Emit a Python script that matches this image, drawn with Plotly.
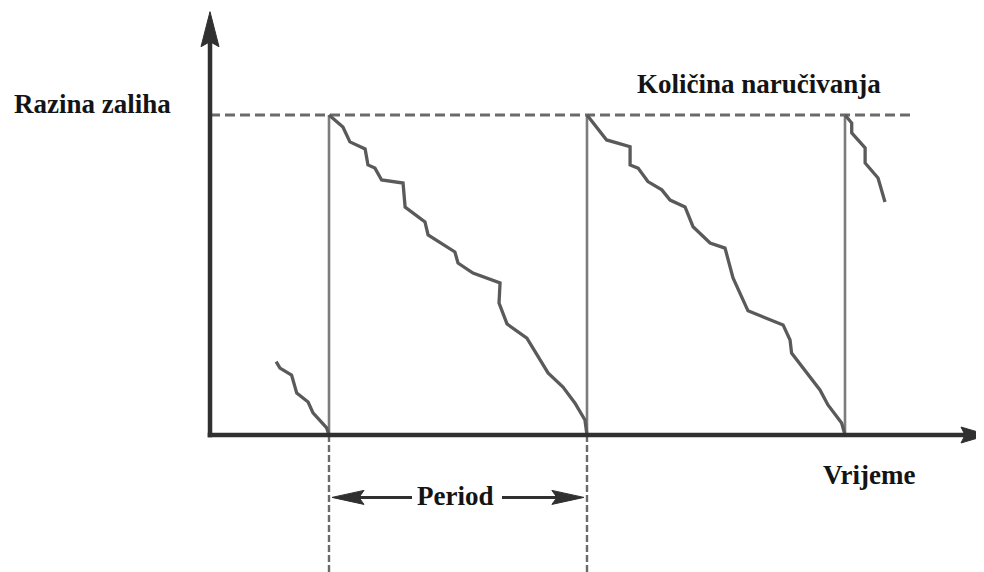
import plotly.graph_objects as go

# ---------------- data (time in periods, level as fraction of order quantity) -------------
reorder_times = [0, 1, 2]
order_qty = 1.0

seg0_t = [-0.205, -0.190, -0.145, -0.125, -0.081, -0.062, -0.009, 0.0]
seg0_L = [0.229, 0.209, 0.1875, 0.131, 0.103, 0.069, 0.022, 0.0]

seg1_t = [0.0, 0.054, 0.081, 0.140, 0.151, 0.178, 0.204, 0.287, 0.295, 0.372, 0.384,
          0.488, 0.500, 0.558, 0.663, 0.659, 0.690, 0.767, 0.849, 0.907, 0.953, 0.992, 1.0]
seg1_L = [1.0, 0.9625, 0.916, 0.894, 0.844, 0.834, 0.797, 0.7875, 0.7125, 0.666, 0.625,
          0.572, 0.5375, 0.506, 0.475, 0.4125, 0.347, 0.303, 0.194, 0.150, 0.100, 0.047, 0.0]

seg2_t = [1.0, 1.031, 1.076, 1.167, 1.167, 1.198, 1.236, 1.290, 1.322, 1.380, 1.411,
          1.477, 1.535, 1.566, 1.624, 1.760, 1.787, 1.793, 1.903, 1.934, 1.987, 2.0]
seg2_L = [1.0, 0.969, 0.922, 0.901, 0.844, 0.834, 0.792, 0.766, 0.734, 0.7125, 0.651,
          0.600, 0.584, 0.491, 0.388, 0.344, 0.297, 0.256, 0.141, 0.094, 0.0375, 0.0]

seg3_t = [2.0, 2.026, 2.026, 2.078, 2.078, 2.109, 2.128, 2.155]
seg3_L = [1.0, 0.975, 0.944, 0.897, 0.850, 0.822, 0.803, 0.728]

label_level = "Razina zaliha"
label_qty = "Količina naručivanja"
label_time = "Vrijeme"
label_period = "Period"

# ---------------- layout geometry ----------------
PAGE_W, PAGE_H = 984, 572
BODY = 8                       # default page margin around the figure
W, H = PAGE_W - BODY, PAGE_H - BODY
PX_T = 258.0      # pixels per period
PX_L = 320.0      # pixels per order quantity
X0_PX, Y0_PX = 329.0, 435.0   # page pixel of t=0, L=0
x_range = [(BODY - X0_PX) / PX_T, (PAGE_W - X0_PX) / PX_T]
y_range = [(Y0_PX - PAGE_H) / PX_L, (Y0_PX - BODY) / PX_L]

axis_t = -0.4612          # y-axis position (in periods)
q_line_end = 2.26
period_bar_L = -0.195

SAW = "#5a5a5a"
VERT = "#7c7c7c"
DASH = "#6a6a6a"
AXIS = "#303030"
TXT = "#141414"

fig = go.Figure()


def line(xs, ys, color, width, dash=None):
    fig.add_trace(go.Scatter(x=xs, y=ys, mode="lines",
                             line=dict(color=color, width=width, dash=dash),
                             hoverinfo="skip", showlegend=False))


def arrowhead(tip_t, tip_L, dx, dy, length, half, notch, color):
    # dx, dy: direction in pixel space (y downwards)
    nx, ny = -dy, dx
    pts_px = [(0, 0),
              (-dx * length + nx * half, -dy * length + ny * half),
              (-dx * (length - notch), -dy * (length - notch)),
              (-dx * length - nx * half, -dy * length - ny * half)]
    pts = [(tip_t + px / PX_T, tip_L - py / PX_L) for px, py in pts_px]
    path = "M " + " L ".join(f"{a:.5f},{b:.5f}" for a, b in pts) + " Z"
    fig.add_shape(type="path", path=path, xref="x", yref="y",
                  fillcolor=color, line=dict(color=color, width=1))


# order quantity dashed line
line([axis_t, q_line_end], [order_qty, order_qty], DASH, 3, "10px,5px")

# replenishment verticals
for t in reorder_times:
    line([t, t], [0, order_qty], VERT, 2.6)

# period dashed markers below axis
for t in reorder_times[:2]:
    line([t, t], [0, y_range[0]], DASH, 2.4, "7px,3px")

# sawtooth inventory
for ts, ls in [(seg0_t, seg0_L), (seg1_t, seg1_L), (seg2_t, seg2_L), (seg3_t, seg3_L)]:
    line(ts, ls, SAW, 3.3)

# axes
y_tip = (Y0_PX - 11.7) / PX_L
x_tip = (988 - X0_PX) / PX_T
line([axis_t, axis_t], [-2.3 / PX_L, y_tip - 30 / PX_L], AXIS, 4.5)
line([axis_t - 2.3 / PX_T, x_tip - 20 / PX_T], [0, 0], AXIS, 4.5)
arrowhead(axis_t, y_tip, 0, -1, 35, 9, 5, AXIS)
arrowhead(x_tip, 0, 1, 0, 27, 8, 4, AXIS)

# period double arrow
left_tip = 0.0116
left_tail = 0.3217
right_tail = 0.6705
right_tip = 0.988
line([left_tip + 25 / PX_T, left_tail], [period_bar_L, period_bar_L], AXIS, 3)
line([right_tail, right_tip - 25 / PX_T], [period_bar_L, period_bar_L], AXIS, 3)
arrowhead(left_tip, period_bar_L, -1, 0, 32, 7, 5, AXIS)
arrowhead(right_tip, period_bar_L, 1, 0, 32, 7, 5, AXIS)

FONT = dict(family="Liberation Serif", size=27, color=TXT, weight="bold")
fig.add_annotation(x=(12 - X0_PX) / PX_T, y=(Y0_PX - 104) / PX_L, text=label_level,
                   xanchor="left", yanchor="middle", showarrow=False, font=FONT)
fig.add_annotation(x=(759 - X0_PX) / PX_T, y=(Y0_PX - 84) / PX_L, text=label_qty,
                   xanchor="center", yanchor="middle", showarrow=False, font=FONT)
fig.add_annotation(x=(869 - X0_PX) / PX_T, y=(Y0_PX - 475) / PX_L, text=label_time,
                   xanchor="center", yanchor="middle", showarrow=False, font=FONT)
fig.add_annotation(x=(455 - X0_PX) / PX_T, y=period_bar_L + 1.5 / PX_L, text=label_period,
                   xanchor="center", yanchor="middle", showarrow=False, font=FONT)

fig.update_layout(
    width=W, height=H,
    margin=dict(l=0, r=0, t=0, b=0),
    paper_bgcolor="white", plot_bgcolor="white",
    xaxis=dict(range=x_range, visible=False, fixedrange=True),
    yaxis=dict(range=y_range, visible=False, fixedrange=True),
    showlegend=False,
)

fig.write_html("out.html")
